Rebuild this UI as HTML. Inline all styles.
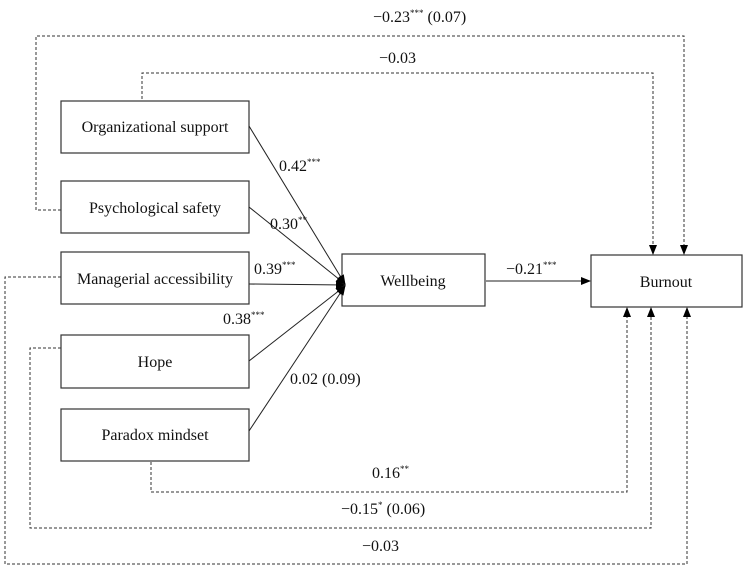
<!DOCTYPE html>
<html><head><meta charset="utf-8"><style>
body{margin:0;background:#fff}
svg text{font-family:"Liberation Serif",serif;font-size:16px;fill:#111}
.s{font-size:9px}
</style></head><body>
<svg width="748" height="575" viewBox="0 0 748 575" xmlns="http://www.w3.org/2000/svg">
<defs><marker id="a" markerWidth="10" markerHeight="8" refX="9" refY="4" orient="auto" markerUnits="userSpaceOnUse"><path d="M0,0 L10,4 L0,8 z" fill="#000"/></marker></defs>
<g fill="none" stroke="#333" stroke-width="1.2">
<rect x="61" y="101" width="188" height="52"/>
<rect x="61" y="181" width="188" height="52"/>
<rect x="61" y="252" width="188" height="52"/>
<rect x="61" y="335" width="188" height="53"/>
<rect x="61" y="409" width="188" height="52"/>
<rect x="342" y="254" width="143" height="52"/>
<rect x="591" y="255" width="151" height="52"/>
</g>
<g stroke="#222" stroke-width="1" fill="none" marker-end="url(#a)">
<line x1="249" y1="126" x2="345" y2="284"/>
<line x1="249" y1="207" x2="345" y2="284"/>
<line x1="249" y1="284" x2="345" y2="285"/>
<line x1="249" y1="361" x2="345" y2="286"/>
<line x1="249" y1="431" x2="345" y2="286"/>
<line x1="486" y1="281" x2="590" y2="281"/>
</g>
<g stroke="#333" stroke-width="1" fill="none" stroke-dasharray="3,2" marker-end="url(#a)">
<polyline points="61,210 36,210 36,36 684,36 684,254"/>
<polyline points="142,99 142,73 653,73 653,254"/>
<polyline points="61,277 5,277 5,564 687,564 687,308"/>
<polyline points="61,348 30,348 30,528 651,528 651,308"/>
<polyline points="151,462 151,492 627,492 627,308"/>
</g>
<g text-anchor="middle">
<text x="155" y="132">Organizational support</text>
<text x="155" y="213">Psychological safety</text>
<text x="155" y="284">Managerial accessibility</text>
<text x="155" y="367">Hope</text>
<text x="155" y="440">Paradox mindset</text>
<text x="413" y="286">Wellbeing</text>
<text x="666" y="287">Burnout</text>
</g>
<text x="373" y="22">−0.23<tspan class="s" dy="-6">***</tspan><tspan dy="6"> (0.07)</tspan></text>
<text x="379" y="63">−0.03</text>
<text x="279" y="171">0.42<tspan class="s" dy="-6">***</tspan></text>
<text x="270" y="229">0.30<tspan class="s" dy="-6">**</tspan></text>
<text x="254" y="274">0.39<tspan class="s" dy="-6">***</tspan></text>
<text x="223" y="324">0.38<tspan class="s" dy="-6">***</tspan></text>
<text x="290" y="384">0.02 (0.09)</text>
<text x="506" y="274">−0.21<tspan class="s" dy="-6">***</tspan></text>
<text x="372" y="478">0.16<tspan class="s" dy="-6">**</tspan></text>
<text x="341" y="514">−0.15<tspan class="s" dy="-6">*</tspan><tspan dy="6"> (0.06)</tspan></text>
<text x="362" y="551">−0.03</text>
</svg>
</body></html>
